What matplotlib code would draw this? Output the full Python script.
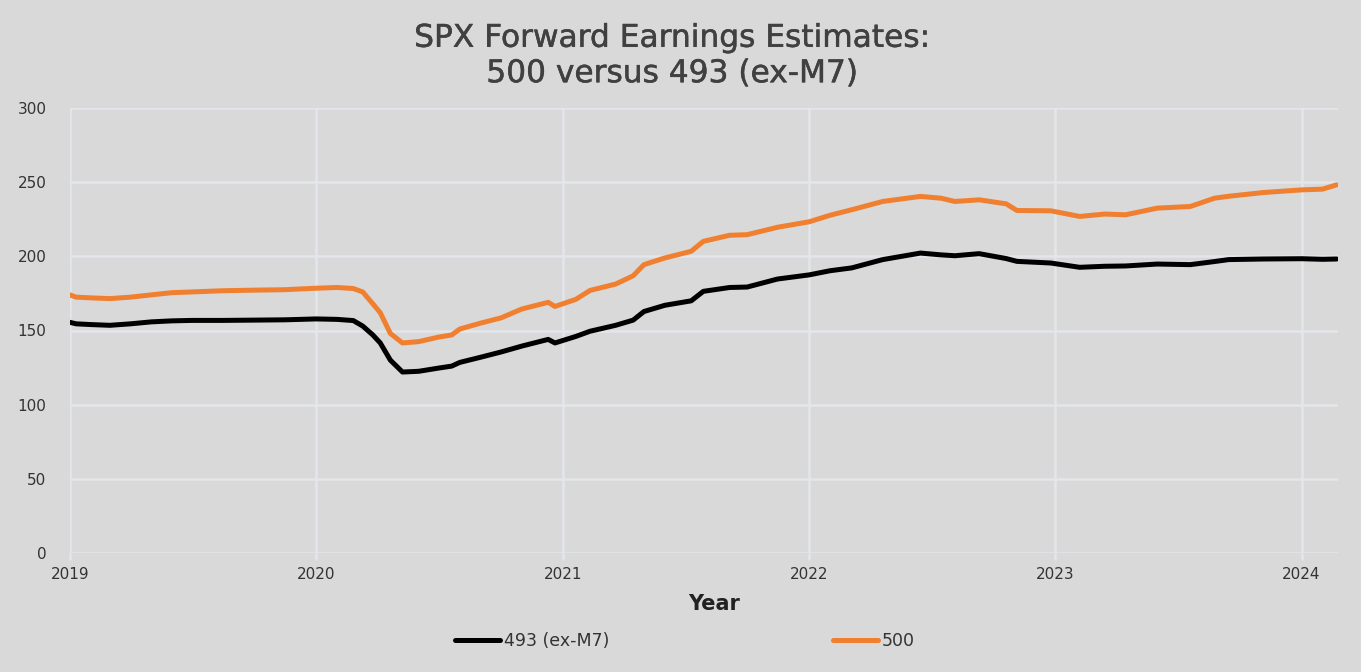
import matplotlib
matplotlib.use("Agg")
import matplotlib.pyplot as plt
import matplotlib.patheffects as pe
import pandas as pd

dates = ["2019-01-01", "2019-01-10", "2019-02-01", "2019-03-01", "2019-04-01", "2019-05-01",
         "2019-06-01", "2019-07-01", "2019-08-15", "2019-10-01", "2019-11-15", "2020-01-01",
         "2020-02-01", "2020-02-25", "2020-03-10", "2020-03-25", "2020-04-05", "2020-04-20",
         "2020-05-08", "2020-06-01", "2020-07-01", "2020-07-20", "2020-08-01", "2020-09-01",
         "2020-10-01", "2020-11-01", "2020-12-10", "2020-12-20", "2021-01-20", "2021-02-10",
         "2021-03-20", "2021-04-15", "2021-05-01", "2021-06-01", "2021-07-10", "2021-07-28",
         "2021-09-05", "2021-10-01", "2021-11-15", "2022-01-01", "2022-02-01", "2022-03-05",
         "2022-04-20", "2022-06-15", "2022-07-15", "2022-08-05", "2022-09-10", "2022-10-20",
         "2022-11-05", "2022-12-25", "2023-02-06", "2023-03-15", "2023-04-15", "2023-06-01",
         "2023-07-20", "2023-08-25", "2023-09-15", "2023-11-05", "2024-01-01", "2024-02-01",
         "2024-02-22"]

spx500 = [174, 172.5, 172, 171.5, 172.5, 174,
          175.5, 176, 176.8, 177.2, 177.5, 178.5,
          179, 178.3, 176, 168, 162, 148,
          141.6, 142.5, 145.6, 147, 151, 155,
          158.5, 164.5, 169, 166.2, 171, 177,
          181.3, 186.9, 194.4, 198.9, 203.4, 210.1,
          214.2, 214.6, 219.6, 223.3, 227.7, 231.4,
          237, 240.4, 239.2, 237, 238.1, 235.4,
          230.9, 230.7, 226.9, 228.5, 228, 232.5,
          233.6, 239.2, 240.5, 243, 244.8, 245.3,
          248.2]

spx493 = [155.5, 154.5, 154, 153.5, 154.5, 155.8,
          156.5, 156.8, 156.8, 157, 157.2, 157.8,
          157.5, 156.7, 153, 147, 141.6, 130,
          122, 122.5, 124.7, 126, 128.5, 132,
          135.5, 139.5, 144, 141.6, 146, 149.5,
          153.5, 157, 162.8, 167, 170, 176.4,
          179, 179.3, 184.7, 187.5, 190.3, 192.2,
          197.8, 202.2, 201, 200.4, 201.8, 198.5,
          196.6, 195.5, 192.6, 193.3, 193.5, 194.8,
          194.4, 196.5, 197.8, 198.2, 198.4, 198,
          198.2]

y_ticks = [0, 50, 100, 150, 200, 250, 300]
x_years = ["2019", "2020", "2021", "2022", "2023", "2024"]

title = "SPX Forward Earnings Estimates:\n500 versus 493 (ex-M7)"

bg = "#d9d9d9"
grid_c = "#e3e6eb"
text_c = "#333333"

plt.rcParams['font.family'] = ['DejaVu Sans']

fig = plt.figure(figsize=(13.61, 6.72), dpi=100, facecolor=bg)
ax = fig.add_axes([70/1361, 1-553/672, (1338-70)/1361, (553-108)/672], facecolor=bg)

d = pd.to_datetime(dates)
l493, = ax.plot(d, spx493, color="#000000", lw=3.6, label="493 (ex-M7)", solid_capstyle="round", zorder=3)
l500, = ax.plot(d, spx500, color="#f08030", lw=3.6, label="500", solid_capstyle="round", zorder=3)

ax.set_ylim(0, 300)
ax.set_yticks(y_ticks)
ax.set_xlim(pd.Timestamp("2019-01-01"), pd.Timestamp("2024-02-24"))
xt = pd.to_datetime([y + "-01-01" for y in x_years])
ax.set_xticks(xt)
ax.set_xticklabels(x_years)

for s in ax.spines.values():
    s.set_visible(False)
ax.grid(True, color=grid_c, lw=1.8)
ax.set_axisbelow(True)
ax.tick_params(axis="y", length=0, pad=17, labelsize=11, labelcolor=text_c)
ax.tick_params(axis="x", length=5, width=1.8, color=grid_c, pad=5, labelsize=11, labelcolor=text_c)

fig.text(714/1361, 1-604/672, "Year", ha="center", va="center", fontsize=15,
         fontweight="bold", color="#222222")

fig.text(0.494, 1-56/672, title, ha="center", va="center", fontsize=22.5,
         color="#404040", linespacing=1.28,
         path_effects=[pe.withStroke(linewidth=0.35, foreground="#404040")])

for h, xpos in ((l493, 455), (l500, 833)):
    fig.legend(handles=[h], loc="center left", bbox_to_anchor=(xpos/1361, 1-641/672),
               frameon=False, fontsize=12.5, handlelength=2.6, handletextpad=0.2,
               borderpad=0, borderaxespad=0, labelcolor=text_c)

fig.savefig("out.png", dpi=100, facecolor=bg)
